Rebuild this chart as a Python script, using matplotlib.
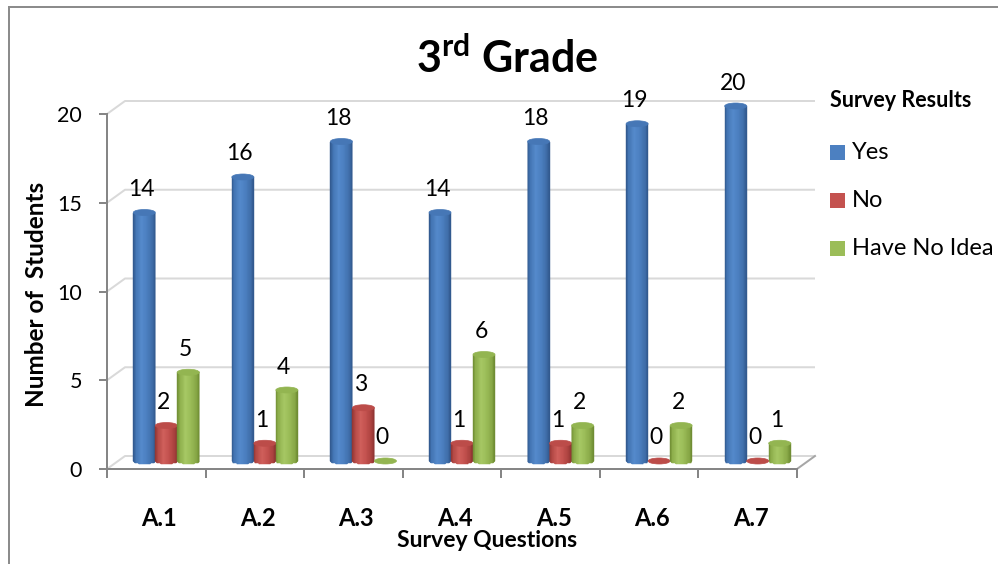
import numpy as np
import matplotlib
matplotlib.use("Agg")
import matplotlib.pyplot as plt
from matplotlib.patches import Ellipse, Rectangle
from matplotlib.collections import PolyCollection
from matplotlib.colors import LinearSegmentedColormap

plt.rcParams['font.family'] = ['Lato', 'DejaVu Sans']
plt.rcParams['mathtext.fontset'] = 'custom'
plt.rcParams['mathtext.rm'] = 'Lato'
plt.rcParams['mathtext.bf'] = 'Lato:bold'

# ---- data ----
questions = ["A.1", "A.2", "A.3", "A.4", "A.5", "A.6", "A.7"]
yes = [14, 16, 18, 14, 18, 19, 20]
no = [2, 1, 3, 1, 1, 0, 0]
no_idea = [5, 4, 0, 6, 2, 2, 1]
series_names = ["Yes", "No", "Have No Idea"]
y_ticks = [0, 5, 10, 15, 20]

# ---- styling ----
W, H = 998, 564
fig = plt.figure(figsize=(W / 100, H / 100), dpi=100)
ax = fig.add_axes([107 / W, 95 / H, 690 / W, 355 / H])
ax.set_facecolor("none")
n = len(questions)
XMAX, YMAX = n, 20
PX = XMAX / 690.0      # data units per pixel, horizontally
PY = YMAX / 355.0      # data units per pixel, vertically
PT = 72.0 / 100.0      # points per pixel

# depth of the 3-D box (back wall offset) and depth of the bar row
BX, BY = 18 * PX, 13 * PY
RX, RY = 10 * PX, 8 * PY

grid_col = "#D9D9D9"
axis_col = "#868686"

# back wall gridlines with the left side-wall diagonal
for v in y_ticks:
    ax.plot([0, BX, XMAX + BX], [v, v + BY, v + BY], color=grid_col,
            lw=2 * PT, clip_on=False, zorder=1, solid_capstyle="butt")
# right floor edge
ax.plot([XMAX, XMAX + BX], [0, BY], color="#A6A6A6", lw=2 * PT,
        clip_on=False, zorder=1)

# cylinder palettes: (gradient stops, top colour)
palettes = [
    (["#2F568A", "#4375B3", "#558ACC", "#4C80C1", "#3F6DA8", "#30578B"], "#4677B6"),
    (["#8E3431", "#B44946", "#D0605C", "#C4524F", "#A9413E", "#8A3230"], "#BC4C49"),
    (["#6F8C33", "#8DAE4B", "#A7C865", "#9BBD58", "#87A746", "#6C8931"], "#93B551"),
]
stops = [0.0, 0.12, 0.38, 0.62, 0.88, 1.0]
cmaps = [LinearSegmentedColormap.from_list(f"cyl{i}", list(zip(stops, p[0])))
         for i, p in enumerate(palettes)]

bw = 22 * PX           # bar width
eh = 6 * PY            # height of the elliptical cap
base = RY
NSTRIP = 28


def cylinder(xc, value, cmap, top_col, z):
    top = base + value
    if value > 0:
        edges = np.linspace(xc - bw / 2, xc + bw / 2, NSTRIP + 1)
        polys, cols = [], []
        for k in range(NSTRIP):
            xa, xb = edges[k], edges[k + 1]
            ua = np.clip((xa - xc) / (bw / 2), -1, 1)
            ub = np.clip((xb - xc) / (bw / 2), -1, 1)
            ya = base - (eh / 2) * np.sqrt(1 - ua ** 2)
            yb = base - (eh / 2) * np.sqrt(1 - ub ** 2)
            polys.append([(xa, ya), (xa, top), (xb, top), (xb, yb)])
            cols.append(cmap((k + 0.5) / NSTRIP))
        pc = PolyCollection(polys, facecolors=cols, edgecolors=cols,
                            linewidths=0.3, zorder=z, clip_on=False)
        ax.add_collection(pc)
    ax.add_patch(Ellipse((xc, top), bw, eh, facecolor=top_col,
                         edgecolor=top_col, lw=0.5, zorder=z + 0.5,
                         clip_on=False))


series = [yes, no, no_idea]
for i in range(n):
    centre = i + 0.5 + RX
    for s, vals in enumerate(series):
        xc = centre + (s - 1) * bw
        cylinder(xc, vals[i], cmaps[s], palettes[s][1], 3 + i * 3 + s)
        ax.annotate(str(vals[i]), (xc, base + vals[i]),
                    xytext=(-3 * PT, 16.5 * PT), textcoords="offset points",
                    ha="center", va="baseline", fontsize=16.5, color="#000000",
                    annotation_clip=False, zorder=50)

ax.set_xlim(0, XMAX)
ax.set_ylim(0, YMAX)

# front axes
for side in ["top", "right"]:
    ax.spines[side].set_visible(False)
for side in ["left", "bottom"]:
    ax.spines[side].set_color(axis_col)
    ax.spines[side].set_linewidth(2 * PT)
    ax.spines[side].set_zorder(2)

ax.set_yticks(y_ticks)
ax.set_yticklabels([str(v) for v in y_ticks], fontsize=15.5)
ax.tick_params(axis="y", length=8 * PT, width=2 * PT, color=axis_col,
               pad=17 * PT)
ax.set_xticks(np.arange(0, n + 1))
ax.set_xticklabels([])
ax.tick_params(axis="x", length=9 * PT, width=2 * PT, color=axis_col)

for i, q in enumerate(questions):
    ax.text(i + 0.5 + 3 * PX, -57 * PY, q, ha="center", va="baseline",
            fontsize=17, fontweight="bold", clip_on=False)

# titles
fig.text(507 / W, 1 - 73 / H, r"3$^{\mathbf{rd}}$ Grade", ha="center",
         va="baseline", fontsize=31, fontweight="bold")
fig.text(37 / W, 1 - 294 / H, "Number of  Students", rotation=90,
         ha="center", va="center", fontsize=17.5, fontweight="bold")
fig.text(487 / W, 1 - 547 / H, "Survey Questions", ha="center",
         va="baseline", fontsize=16.5, fontweight="bold")

# legend
fig.text(830 / W, 1 - 107 / H, "Survey Results", ha="left", va="baseline",
         fontsize=15.5, fontweight="bold")
leg_y = [152, 200, 248]
for s, name in enumerate(series_names):
    yc = leg_y[s]
    fig.patches.append(Rectangle((830 / W, 1 - (yc + 7.5) / H), 15 / W, 15 / H,
                                 transform=fig.transFigure,
                                 facecolor=palettes[s][0][3], edgecolor="none"))
    fig.text(852 / W, 1 - (yc + 7) / H, name, ha="left", va="baseline",
             fontsize=17)

# chart border
fig.patches.append(Rectangle((9 / W, -0.05), 1.2, 1 - 7 / H + 0.05,
                             transform=fig.transFigure, fill=False,
                             edgecolor="#8C8C8C", lw=2 * PT))

fig.savefig("out.png", dpi=100)
